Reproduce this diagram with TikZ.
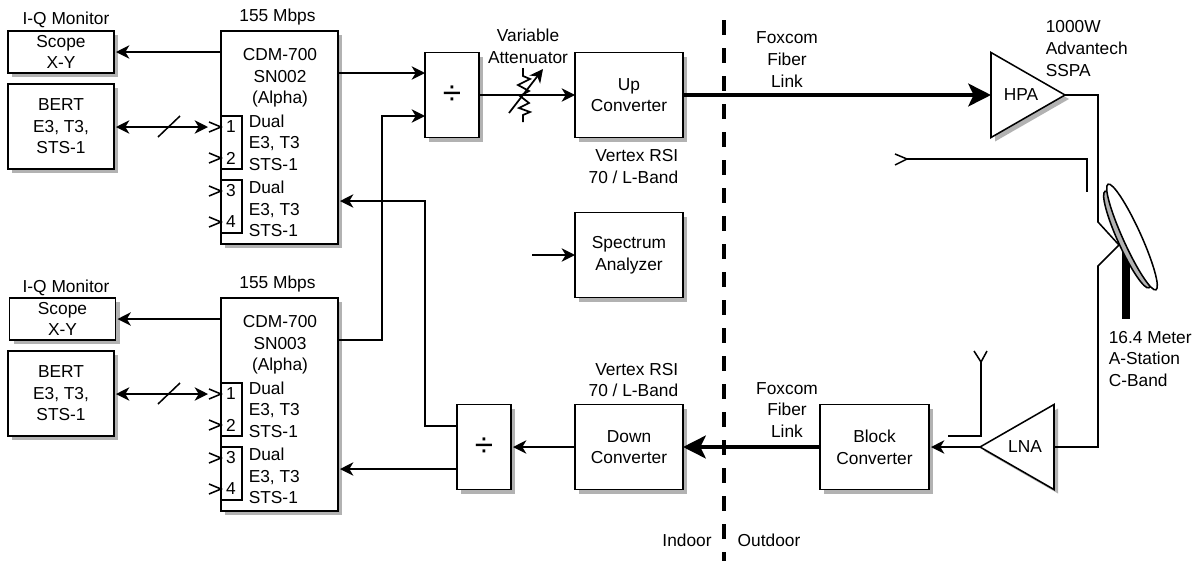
\documentclass[tikz,border=0pt]{standalone}
\usepackage{fontspec}
\setmainfont{Liberation Sans}
\usepackage{xcolor}
\usetikzlibrary{shapes.geometric,arrows.meta,shadows}
\definecolor{shadowgray}{RGB}{178, 178, 178}

\begin{document}
\begin{tikzpicture}[x=0.75pt, y=-0.75pt, line width=1.15pt,
  sized/.style 2 args={minimum width=#1*0.75pt, minimum height=#2*0.75pt},
  txt/.style={font=\fontsize{13}{16.2}\selectfont, align=center, inner sep=0pt},
  block/.style={draw, fill=white, rectangle, txt, outer sep=0pt, drop shadow={shadow xshift=3pt, shadow yshift=-3pt, fill=shadowgray, opacity=1}},
  port/.style={draw, rectangle, inner sep=0pt, outer sep=0pt, sized={21}{53}},
  amp/.style={draw, fill=white, isosceles triangle, isosceles triangle stretches, sized={85}{74}, inner sep=0pt, outer sep=0pt, drop shadow={shadow xshift=3pt, shadow yshift=-3pt, fill=shadowgray, opacity=1}},
  divsign/.style={font=\fontsize{25}{25}\selectfont},
  flow/.style={-{Stealth[length=10pt, width=10pt, inset=3pt]}},
  gapflow/.style={flow, shorten >=1.5pt},
  duplex/.style={{Stealth[length=10pt, width=10pt, inset=3pt]}-{Stealth[length=10pt, width=10pt, inset=3pt]}, shorten <=1.5pt},
  fiber/.style={-{Stealth[length=17pt, width=17pt, inset=4pt]}, line width=3.2pt}
]
\useasboundingbox (0,0) rectangle (1199,561);

% Site boundary
\draw[line width=3pt, dash pattern=on 11.25pt off 9.75pt] (724,20) -- (724,561);

\node[block, sized={106}{42}] (scope1) at (61,52) {Scope\\X-Y};
\node[block, sized={106}{85}] (bert1) at (61,126.5) {BERT\\E3, T3,\\STS-1};
\node[block, sized={117}{213}] (cdm1) at (279.5,137.5) {};
\node[port] (ports12a) at (231.5,142.5) {};
\node[port] (ports34a) at (231.5,206.5) {};
\node[block, sized={106}{42}] (scope2) at (62.5,319) {Scope\\X-Y};
\node[block, sized={106}{85}] (bert2) at (61,393.5) {BERT\\E3, T3,\\STS-1};
\node[block, sized={117}{213}] (cdm2) at (279.5,404.5) {};
\node[port] (ports12b) at (231.5,409.5) {};
\node[port] (ports34b) at (231.5,473.5) {};
\node[block, sized={54}{85}, divsign] (div1) at (452,95) {\raisebox{-4.5pt}{÷}};
\node[block, sized={54}{85}, divsign] (div2) at (484,447) {\raisebox{-4.5pt}{÷}};
\node[block, sized={108}{85}] (up) at (629,95) {Up\\Converter};
\node[block, sized={108}{85}] (spec) at (629,255) {Spectrum\\Analyzer};
\node[block, sized={108}{85}] (down) at (629,447) {Down\\Converter};
\node[block, sized={109}{85}] (conv) at (874.5,447) {Block\\Converter};
\node[amp, anchor=apex] (hpa) at (1065,95) {};
\node[amp, anchor=apex, shape border rotate=180] (lna) at (980,447) {};

% Labels
\node[txt] (hpatext) at (1021,95) {HPA};
\node[txt] (lnatext) at (1025,447) {LNA};
\node[txt] (iq1) at (66,20) {I-Q Monitor};
\node[txt] (rate1) at (277.5,17) {155 Mbps};
\node[txt] (name1) at (280,78) {CDM-700\\SN002\\(Alpha)};
\node[txt, align=left, anchor=west] (dual1) at (248,142.5) {Dual\\E3, T3\\STS-1};
\node[txt, align=left, anchor=west] (dual2) at (248,209) {Dual\\E3, T3\\STS-1};
\node[txt] (n1) at (231,127) {1};
\node[txt] (n2) at (231,158) {2};
\node[txt] (n3) at (231,191) {3};
\node[txt] (n4) at (231,222) {4};
\node[txt] (iq2) at (66,288) {I-Q Monitor};
\node[txt] (rate2) at (277.5,284) {155 Mbps};
\node[txt] (name2) at (280,345) {CDM-700\\SN003\\(Alpha)};
\node[txt, align=left, anchor=west] (dual3) at (248,409.5) {Dual\\E3, T3\\STS-1};
\node[txt, align=left, anchor=west] (dual4) at (248,476) {Dual\\E3, T3\\STS-1};
\node[txt] (n5) at (231,394) {1};
\node[txt] (n6) at (231,425) {2};
\node[txt] (n7) at (231,458) {3};
\node[txt] (n8) at (231,489) {4};
\node[txt] (atten) at (528,46.5) {Variable\\Attenuator};
\node[txt, align=right, anchor=east] (rsi1) at (679,166.5) {Vertex RSI\\70 / L-Band};
\node[txt, align=right, anchor=east] (rsi2) at (679,380) {Vertex RSI\\70 / L-Band};
\node[txt] (fox1) at (787,59.5) {Foxcom\\Fiber\\Link};
\node[txt] (fox2) at (787,410) {Foxcom\\Fiber\\Link};
\node[txt, align=left, anchor=west] (sspa) at (1045,48.5) {1000W\\Advantech\\SSPA};
\node[txt, align=left, anchor=west] (station) at (1108,359) {16.4 Meter\\A-Station\\C-Band};
\node[txt] (indoor) at (687,540) {Indoor};
\node[txt] (outdoor) at (769,540) {Outdoor};

% Free ends
\coordinate (div1a) at (425,73);
\coordinate (div1b) at (425,116);
\coordinate (div2a) at (457,426);
\coordinate (div2b) at (457,469);
\coordinate (cdm1b) at (338,201);
\coordinate (cdm2a) at (338,340);
\coordinate (feed) at (1119,245);
\coordinate (specin) at (532,255);
\coordinate (duplex1) at (208,127);
\coordinate (duplex2) at (208,394);

% Connections
\draw[gapflow] (scope1.east -| cdm1.west) -- (scope1.east);
\draw[gapflow] (scope2.east -| cdm2.west) -- (scope2.east);
\draw[duplex] (bert1.east |- duplex1) -- (duplex1);
\draw[duplex] (bert2.east |- duplex2) -- (duplex2);
\draw (158,137) -- (180,116);
\draw (158,404) -- (180,383);
\draw[flow] (div1a -| cdm1.east) -- (div1a);
\draw[flow] (cdm2a) -- (382,340) -- (382,116) -- (div1b);
\draw[gapflow] (div2a) -- (425,426) -- (425,201) -- (cdm1b);
\draw[gapflow] (div2b) -- (div2b -| cdm2.east);
\draw[gapflow] (down) -- (div2);
\draw[flow] (div1) -- (up);
\draw[flow] (specin) -- (spec);
\draw[fiber] (up) -- (hpa.lower side);
\draw[fiber] (conv) -- (down);
\draw[gapflow] (lna.apex) -- (conv.east);
\draw (hpa.apex) -- (1098,95) -- (1098,222) -- (feed);
\draw (feed) -- (1098,266) -- (1098,447) -- (lna.lower side);

% Port chevrons
\draw (209,122) -- (221,127) -- (209,132);
\draw (209,153) -- (221,158) -- (209,163);
\draw (209,186) -- (221,191) -- (209,196);
\draw (209,217) -- (221,222) -- (209,227);
\draw (209,389) -- (221,394) -- (209,399);
\draw (209,420) -- (221,425) -- (209,430);
\draw (209,453) -- (221,458) -- (209,463);
\draw (209,484) -- (221,489) -- (209,494);

% Attenuator
\draw[line width=1.3pt] (523,68) -- (523,76) -- (530,79) -- (518,85) -- (529,91) -- (520,96) -- (529,103) -- (519,108) -- (530,112) -- (523,115) -- (523,122);
\draw[flow, line width=1.3pt] (509,113) -- (543,69);

% Test and pilot lines
\draw (895,154) -- (907,159) -- (895,165);
\draw (907,159) -- (1087,159) -- (1087,192);
\draw (948,436) -- (981,436) -- (981,362);
\draw (974,351) -- (981,362) -- (987,351);

% Dish
\draw[line width=6pt] (1126,240) -- (1126,319);
\node[draw, fill=shadowgray, ellipse, inner sep=0pt, minimum width=106*0.75pt, minimum height=18*0.75pt, rotate=-65.6] (dishback) at (1127,239.5) {};
\node[draw, fill=white, ellipse, inner sep=0pt, minimum width=116*0.75pt, minimum height=18*0.75pt, rotate=-65.6] (dish) at (1132,237) {};

\end{tikzpicture}
\end{document}
